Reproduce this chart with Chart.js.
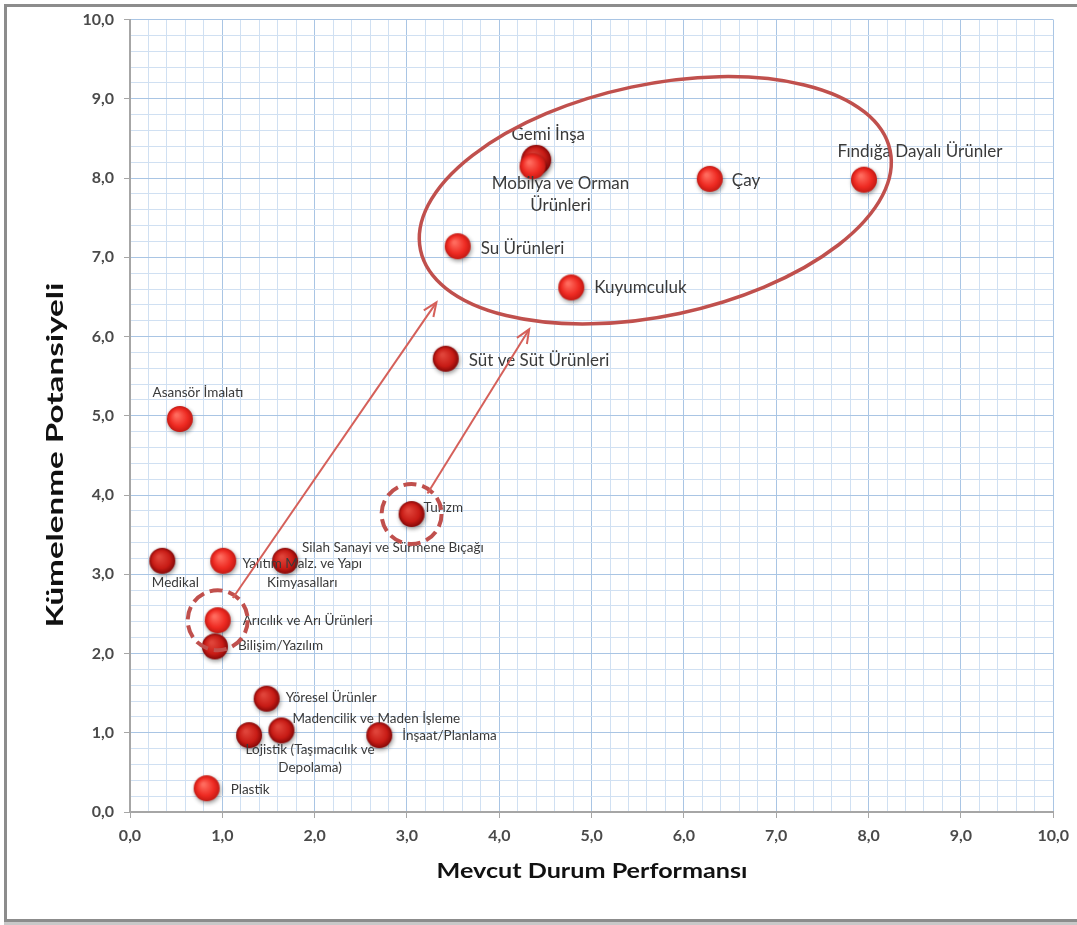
<!DOCTYPE html>
<html>
<head>
<meta charset="utf-8">
<script src="https://cdn.jsdelivr.net/npm/chart.js@4.4.0/dist/chart.umd.min.js"></script>
<style>
  html, body { margin: 0; padding: 0; background: #ffffff; }
  #wrap { position: relative; width: 1077px; height: 925px; }
  canvas { display: block; }
</style>
</head>
<body>
<div id="wrap"><canvas id="c" width="1077" height="925"></canvas></div>
<script>
// ---------------- DATA ----------------
const sectors = [
  'Gemi İnşa',
  'Mobilya ve Orman\nÜrünleri',
  'Çay',
  'Fındığa Dayalı Ürünler',
  'Su Ürünleri',
  'Kuyumculuk',
  'Süt ve Süt Ürünleri',
  'Asansör İmalatı',
  'Turizm',
  'Medikal',
  'Yalıtım Malz. ve Yapı\nKimyasalları',
  'Silah Sanayi ve Sürmene Bıçağı',
  'Arıcılık ve Arı Ürünleri',
  'Bilişim/Yazılım',
  'Yöresel Ürünler',
  'Madencilik ve Maden İşleme',
  'Lojistik (Taşımacılık ve\nDepolama)',
  'İnşaat/Planlama',
  'Plastik'
];
const performance = [4.40, 4.36, 6.28, 7.95, 3.55, 4.78, 3.42, 0.54, 3.05, 0.35, 1.01, 1.68, 0.95, 0.92, 1.48, 1.64, 1.29, 2.70, 0.83];
const potential   = [8.23, 8.15, 7.99, 7.98, 7.14, 6.62, 5.72, 4.96, 3.76, 3.17, 3.17, 3.17, 2.42, 2.09, 1.43, 1.03, 0.97, 0.97, 0.30];
const tickLabels  = ['0,0','1,0','2,0','3,0','4,0','5,0','6,0','7,0','8,0','9,0','10,0'];
const xTitle = 'Mevcut Durum Performansı';
const yTitle = 'Kümelenme Potansiyeli';
// highlighted (dashed circle) sectors and arrows (data coordinates)
const highlighted = [8, 12];
const arrowFrom = [[1.114, 2.70], [3.222, 4.02]];
const arrowTo   = [[3.319, 6.432], [4.324, 6.093]];
// big ellipse (data coordinates)
const ellipseCenter = [5.69, 7.72];
const ellipseRadii  = [2.60, 1.46];

// ---------------- STYLE / LAYOUT ----------------
const tone = ['d','l','l','l','l','l','d','l','d','d','l','d','l','d','d','d','d','d','l'];
const radius = [15,13,13,13,13,13,13,13,13,13,13,13,13,13,13,13,13,13,13];
const BIG = 17, SMALL = 13.5;
const labelLayout = [
  {dx:12, dy:-25, align:'center', size:BIG},
  {dx:28, dy:17, align:'center', size:BIG, gap:22},
  {dx:22, dy:2, align:'left', size:BIG},
  {dx:56, dy:-28, align:'center', size:BIG},
  {dx:23, dy:2, align:'left', size:BIG},
  {dx:23, dy:0, align:'left', size:BIG},
  {dx:23, dy:2, align:'left', size:BIG},
  {dx:18, dy:-26, align:'center', size:SMALL},
  {dx:12, dy:-6, align:'left', size:SMALL},
  {dx:13, dy:22, align:'center', size:SMALL},
  {dx:79, dy:3, align:'center', size:SMALL, gap:19},
  {dx:17, dy:-13, align:'left', size:SMALL},
  {dx:25, dy:0, align:'left', size:SMALL},
  {dx:23, dy:-1, align:'left', size:SMALL},
  {dx:19, dy:-1, align:'left', size:SMALL},
  {dx:11, dy:-12, align:'left', size:SMALL},
  {dx:61, dy:15, align:'center', size:SMALL, gap:18},
  {dx:23, dy:1, align:'left', size:SMALL},
  {dx:24, dy:1, align:'left', size:SMALL}
];
const FONT = 'Lato, "Open Sans", sans-serif';
const RED = '#c0504d';

function makeSprite(r, c0, c1, c2) {
  const pad = 6, s = 2 * (r + pad);
  const cv = document.createElement('canvas');
  cv.width = s; cv.height = s;
  const g = cv.getContext('2d');
  g.shadowColor = 'rgba(0,0,0,0.4)';
  g.shadowBlur = 4; g.shadowOffsetX = 1; g.shadowOffsetY = 2;
  const grad = g.createRadialGradient(s/2 - r*0.25, s/2 - r*0.3, r*0.1, s/2, s/2, r);
  grad.addColorStop(0, c0); grad.addColorStop(0.65, c1); grad.addColorStop(1, c2);
  g.fillStyle = grad;
  g.beginPath(); g.arc(s/2, s/2, r, 0, Math.PI*2); g.fill();
  return cv;
}
const spriteCache = {};
function sprite(i) {
  const key = tone[i] + radius[i];
  if (!spriteCache[key]) {
    spriteCache[key] = tone[i] === 'd'
      ? makeSprite(radius[i], '#e0443a', '#c81c16', '#860808')
      : makeSprite(radius[i], '#ff6b5e', '#ee2a22', '#c41a14');
  }
  return spriteCache[key];
}

function fitText(ctx, text, cx, cy, width, font, rot) {
  ctx.save();
  ctx.font = font;
  const w = ctx.measureText(text).width;
  ctx.translate(cx, cy);
  if (rot) ctx.rotate(rot);
  ctx.scale(width / w, 1);
  ctx.textAlign = 'center';
  ctx.textBaseline = 'middle';
  ctx.fillText(text, 0, 0);
  ctx.restore();
}

const decor = {
  id: 'decor',
  beforeDraw(chart) {
    const ctx = chart.ctx;
    ctx.save();
    ctx.fillStyle = '#ffffff';
    ctx.fillRect(0, 0, chart.width, chart.height);
    ctx.fillStyle = '#8c8c8c';
    ctx.fillRect(4, 4, 3, 918);
    ctx.fillRect(4, 4, 1073, 3);
    ctx.fillRect(4, 919, 1073, 3);
    ctx.fillStyle = '#c8c8c8';
    ctx.fillRect(4, 922, 1073, 3);
    ctx.restore();
  },
  afterDatasetsDraw(chart) {
    const ctx = chart.ctx;
    const xs = chart.scales.x, ys = chart.scales.y;
    const meta = chart.getDatasetMeta(0);
    // labels
    ctx.save();
    ctx.fillStyle = '#3a3a3a';
    ctx.textBaseline = 'middle';
    meta.data.forEach((pt, i) => {
      const L = labelLayout[i];
      ctx.font = L.size + 'px ' + FONT;
      ctx.textAlign = L.align;
      const lines = sectors[i].split('\n');
      lines.forEach((ln, k) => {
        ctx.fillText(ln, pt.x + L.dx, pt.y + L.dy + k * (L.gap || 0));
      });
    });
    ctx.restore();
    // dashed circles
    ctx.save();
    ctx.strokeStyle = RED;
    ctx.lineWidth = 4;
    ctx.setLineDash([13, 6]);
    highlighted.forEach(i => {
      const pt = meta.data[i];
      const r = Math.abs(xs.getPixelForValue(0.325) - xs.getPixelForValue(0));
      ctx.beginPath(); ctx.arc(pt.x, pt.y, r, 0, Math.PI*2); ctx.stroke();
    });
    ctx.restore();
    // arrows
    ctx.save();
    ctx.strokeStyle = '#d5605a';
    ctx.lineWidth = 2;
    arrowFrom.forEach((f, i) => {
      const x0 = xs.getPixelForValue(f[0]), y0 = ys.getPixelForValue(f[1]);
      const x1 = xs.getPixelForValue(arrowTo[i][0]), y1 = ys.getPixelForValue(arrowTo[i][1]);
      ctx.beginPath(); ctx.moveTo(x0, y0); ctx.lineTo(x1, y1); ctx.stroke();
      const a = Math.atan2(y1 - y0, x1 - x0), h = 15, s = 0.4;
      ctx.beginPath();
      ctx.moveTo(x1 - h*Math.cos(a - s), y1 - h*Math.sin(a - s));
      ctx.lineTo(x1, y1);
      ctx.lineTo(x1 - h*Math.cos(a + s), y1 - h*Math.sin(a + s));
      ctx.stroke();
    });
    ctx.restore();
    // ellipse
    ctx.save();
    const cx = xs.getPixelForValue(ellipseCenter[0]), cy = ys.getPixelForValue(ellipseCenter[1]);
    const rx = Math.abs(xs.getPixelForValue(ellipseCenter[0] + ellipseRadii[0]) - cx);
    const ry = Math.abs(ys.getPixelForValue(ellipseCenter[1] + ellipseRadii[1]) - cy);
    ctx.strokeStyle = RED;
    ctx.lineWidth = 3.5;
    ctx.beginPath(); ctx.ellipse(cx, cy, rx, ry, -12 * Math.PI / 180, 0, Math.PI*2); ctx.stroke();
    ctx.restore();
  },
  afterDraw(chart) {
    const ctx = chart.ctx;
    ctx.save();
    ctx.fillStyle = '#111111';
    fitText(ctx, xTitle, 592, 871, 311, 'bold 21px ' + FONT, 0);
    fitText(ctx, yTitle, 56, 455, 345, 'bold 22px ' + FONT, -Math.PI/2);
    ctx.restore();
  }
};

function isMajor(v) { return Math.abs(v - Math.round(v)) < 1e-6; }
function tickCb(v) { return isMajor(v) ? tickLabels[Math.round(v)] : ''; }

const axisCommon = {
  type: 'linear', min: 0, max: 10,
  border: { color: '#a6a6a6', width: 2 },
  grid: {
    color: c => (c.tick && isMajor(c.tick.value)) ? '#a9c5e4' : '#d0e0f2',
    lineWidth: 1,
    tickLength: 6,
    tickColor: c => (c.tick && isMajor(c.tick.value)) ? '#a6a6a6' : 'rgba(0,0,0,0)'
  },
  ticks: {
    stepSize: 0.2, autoSkip: false, maxRotation: 0, minRotation: 0,
    callback: tickCb,
    color: '#4a4a4a',
    font: { family: FONT, size: 16, weight: 'bold' }
  }
};

new Chart(document.getElementById('c'), {
  type: 'scatter',
  data: {
    datasets: [{
      data: performance.map((x, i) => ({ x: x, y: potential[i] })),
      pointStyle: c => sprite(c.dataIndex),
      pointRadius: c => radius[c.dataIndex],
      pointHoverRadius: c => radius[c.dataIndex]
    }]
  },
  options: {
    responsive: false,
    devicePixelRatio: 1,
    animation: false,
    layout: { padding: { left: 0, top: 16, right: 22, bottom: 0 } },
    plugins: { legend: { display: false }, tooltip: { enabled: false } },
    scales: {
      x: Object.assign({}, axisCommon, {
        position: 'bottom',
        ticks: Object.assign({}, axisCommon.ticks, { padding: 8 }),
        afterFit: s => { s.height = 113; }
      }),
      y: Object.assign({}, axisCommon, {
        position: 'left',
        ticks: Object.assign({}, axisCommon.ticks, { padding: 10 }),
        afterFit: s => { s.width = 130; }
      })
    }
  },
  plugins: [decor]
});
</script>
</body>
</html>
